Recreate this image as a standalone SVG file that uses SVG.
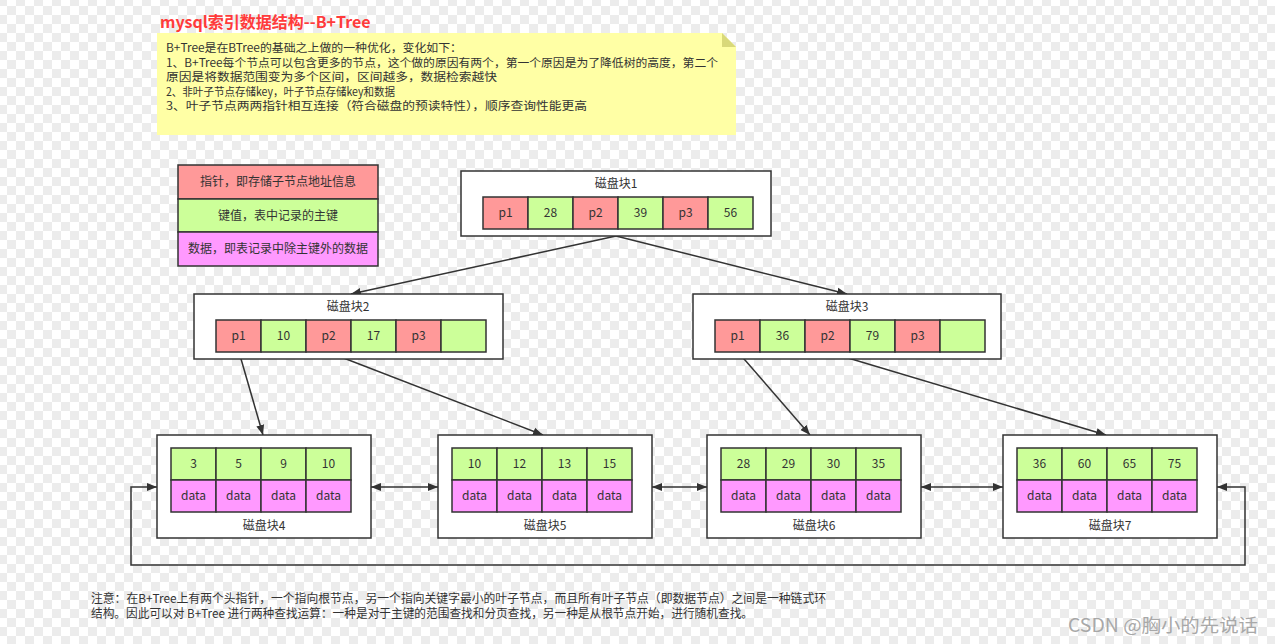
<svg xmlns="http://www.w3.org/2000/svg" width="1275" height="644" viewBox="0 0 1275 644">
<defs>
<pattern id="chk" x="7" y="6" width="18" height="18" patternUnits="userSpaceOnUse">
<rect width="18" height="18" fill="#ffffff"/>
<rect width="9" height="9" fill="#ececec"/>
<rect x="9" y="9" width="9" height="9" fill="#ececec"/>
</pattern>
<marker id="ah" viewBox="0 0 10 10" refX="10" refY="5" markerWidth="10" markerHeight="10" markerUnits="userSpaceOnUse" orient="auto-start-reverse">
<path d="M0,1 L10,5 L0,9 z" fill="#333"/>
</marker>
<style>
text{font-family:"Noto Sans CJK SC","Noto Sans",sans-serif;font-size:12px;fill:#333}
.n{font-size:11.5px}
.c{text-anchor:middle}
.box{fill:#fff;stroke:#333;stroke-width:1.5}
.p{fill:#ff9999;stroke:#333;stroke-width:1.5}
.k{fill:#ccff99;stroke:#333;stroke-width:1.5}
.d{fill:#ff99ff;stroke:#333;stroke-width:1.5}
.e{fill:none;stroke:#333;stroke-width:1.5;marker-end:url(#ah)}
.b{fill:none;stroke:#333;stroke-width:1.5;marker-end:url(#ah);marker-start:url(#ah)}
</style>
</defs>
<rect width="1275" height="644" fill="url(#chk)"/>

<g id="title">
<text x="160" y="28" style="font-size:16px;font-weight:bold;fill:#ff3b3b">mysql索引数据结构--B+Tree</text>
</g>

<g id="note">
<polygon points="157,33 722,33 736,47 736,135 157,135" fill="#ffffa5"/>
<polygon points="722,33 736,47 722,47" fill="#d9d97a"/>
<text class="n" x="166" y="52" textLength="296" lengthAdjust="spacingAndGlyphs">B+Tree是在BTree的基础之上做的一种优化，变化如下：</text>
<text class="n" x="166" y="66.5" textLength="552" lengthAdjust="spacingAndGlyphs">1、B+Tree每个节点可以包含更多的节点，这个做的原因有两个，第一个原因是为了降低树的高度，第二个</text>
<text class="n" x="166" y="81" textLength="331" lengthAdjust="spacingAndGlyphs">原因是将数据范围变为多个区间，区间越多，数据检索越快</text>
<text class="n" x="166" y="95.5" textLength="229" lengthAdjust="spacingAndGlyphs">2、非叶子节点存储key，叶子节点存储key和数据</text>
<text class="n" x="166" y="110" textLength="421" lengthAdjust="spacingAndGlyphs">3、叶子节点两两指针相互连接（符合磁盘的预读特性），顺序查询性能更高</text>
</g>

<g id="legend">
<rect class="p" x="178" y="165" width="200" height="34"/>
<rect class="k" x="178" y="199" width="200" height="33"/>
<rect class="d" x="178" y="232" width="200" height="34"/>
<text class="c" x="278" y="186">指针，即存储子节点地址信息</text>
<text class="c" x="278" y="220">键值，表中记录的主键</text>
<text class="c" x="278" y="253">数据，即表记录中除主键外的数据</text>
</g>

<g id="connectors">
<line class="e" x1="616" y1="236" x2="351" y2="294"/>
<line class="e" x1="616" y1="236" x2="847" y2="294"/>
<line class="e" x1="239" y1="352" x2="263" y2="435"/>
<line class="e" x1="328" y1="352" x2="543" y2="435"/>
<line class="e" x1="738" y1="352" x2="810" y2="435"/>
<line class="e" x1="828" y1="352" x2="1106" y2="435"/>
<line class="b" x1="371" y1="487" x2="438" y2="487"/>
<line class="b" x1="652" y1="487" x2="707" y2="487"/>
<line class="b" x1="921" y1="487" x2="1003" y2="487"/>
<polyline class="b" points="157,487 131,487 131,565 1245,565 1245,487 1217,487"/>
</g>

<g id="node1">
<rect class="box" x="461" y="171" width="310" height="65"/>
<text class="c" x="616" y="188">磁盘块1</text>
<rect class="p" x="483" y="197" width="45" height="32"/>
<rect class="k" x="528" y="197" width="45" height="32"/>
<rect class="p" x="573" y="197" width="45" height="32"/>
<rect class="k" x="618" y="197" width="45" height="32"/>
<rect class="p" x="663" y="197" width="45" height="32"/>
<rect class="k" x="708" y="197" width="45" height="32"/>
<text class="c" x="505.5" y="217">p1</text>
<text class="c" x="550.5" y="217">28</text>
<text class="c" x="595.5" y="217">p2</text>
<text class="c" x="640.5" y="217">39</text>
<text class="c" x="685.5" y="217">p3</text>
<text class="c" x="730.5" y="217">56</text>
</g>

<g id="node2">
<rect class="box" x="194" y="294" width="309" height="65"/>
<text class="c" x="348" y="311">磁盘块2</text>
<rect class="p" x="216" y="320" width="45" height="32"/>
<rect class="k" x="261" y="320" width="45" height="32"/>
<rect class="p" x="306" y="320" width="45" height="32"/>
<rect class="k" x="351" y="320" width="45" height="32"/>
<rect class="p" x="396" y="320" width="45" height="32"/>
<rect class="k" x="441" y="320" width="45" height="32"/>
<text class="c" x="238.5" y="340">p1</text>
<text class="c" x="283.5" y="340">10</text>
<text class="c" x="328.5" y="340">p2</text>
<text class="c" x="373.5" y="340">17</text>
<text class="c" x="418.5" y="340">p3</text>
</g>

<g id="node3">
<rect class="box" x="693" y="294" width="308" height="65"/>
<text class="c" x="847" y="311">磁盘块3</text>
<rect class="p" x="715" y="320" width="45" height="32"/>
<rect class="k" x="760" y="320" width="45" height="32"/>
<rect class="p" x="805" y="320" width="45" height="32"/>
<rect class="k" x="850" y="320" width="45" height="32"/>
<rect class="p" x="895" y="320" width="45" height="32"/>
<rect class="k" x="940" y="320" width="45" height="32"/>
<text class="c" x="737.5" y="340">p1</text>
<text class="c" x="782.5" y="340">36</text>
<text class="c" x="827.5" y="340">p2</text>
<text class="c" x="872.5" y="340">79</text>
<text class="c" x="917.5" y="340">p3</text>
</g>

<g id="node4">
<rect class="box" x="157" y="435" width="214" height="103"/>
<rect class="k" x="171" y="448" width="45" height="32"/>
<rect class="k" x="216" y="448" width="45" height="32"/>
<rect class="k" x="261" y="448" width="45" height="32"/>
<rect class="k" x="306" y="448" width="45" height="32"/>
<rect class="d" x="171" y="480" width="45" height="32"/>
<rect class="d" x="216" y="480" width="45" height="32"/>
<rect class="d" x="261" y="480" width="45" height="32"/>
<rect class="d" x="306" y="480" width="45" height="32"/>
<text class="c" x="193.5" y="468">3</text>
<text class="c" x="238.5" y="468">5</text>
<text class="c" x="283.5" y="468">9</text>
<text class="c" x="328.5" y="468">10</text>
<text class="c" x="193.5" y="500">data</text>
<text class="c" x="238.5" y="500">data</text>
<text class="c" x="283.5" y="500">data</text>
<text class="c" x="328.5" y="500">data</text>
<text class="c" x="264" y="530">磁盘块4</text>
</g>

<g id="node5">
<rect class="box" x="438" y="435" width="214" height="103"/>
<rect class="k" x="452" y="448" width="45" height="32"/>
<rect class="k" x="497" y="448" width="45" height="32"/>
<rect class="k" x="542" y="448" width="45" height="32"/>
<rect class="k" x="587" y="448" width="45" height="32"/>
<rect class="d" x="452" y="480" width="45" height="32"/>
<rect class="d" x="497" y="480" width="45" height="32"/>
<rect class="d" x="542" y="480" width="45" height="32"/>
<rect class="d" x="587" y="480" width="45" height="32"/>
<text class="c" x="474.5" y="468">10</text>
<text class="c" x="519.5" y="468">12</text>
<text class="c" x="564.5" y="468">13</text>
<text class="c" x="609.5" y="468">15</text>
<text class="c" x="474.5" y="500">data</text>
<text class="c" x="519.5" y="500">data</text>
<text class="c" x="564.5" y="500">data</text>
<text class="c" x="609.5" y="500">data</text>
<text class="c" x="545" y="530">磁盘块5</text>
</g>

<g id="node6">
<rect class="box" x="707" y="435" width="214" height="103"/>
<rect class="k" x="721" y="448" width="45" height="32"/>
<rect class="k" x="766" y="448" width="45" height="32"/>
<rect class="k" x="811" y="448" width="45" height="32"/>
<rect class="k" x="856" y="448" width="45" height="32"/>
<rect class="d" x="721" y="480" width="45" height="32"/>
<rect class="d" x="766" y="480" width="45" height="32"/>
<rect class="d" x="811" y="480" width="45" height="32"/>
<rect class="d" x="856" y="480" width="45" height="32"/>
<text class="c" x="743.5" y="468">28</text>
<text class="c" x="788.5" y="468">29</text>
<text class="c" x="833.5" y="468">30</text>
<text class="c" x="878.5" y="468">35</text>
<text class="c" x="743.5" y="500">data</text>
<text class="c" x="788.5" y="500">data</text>
<text class="c" x="833.5" y="500">data</text>
<text class="c" x="878.5" y="500">data</text>
<text class="c" x="814" y="530">磁盘块6</text>
</g>

<g id="node7">
<rect class="box" x="1003" y="435" width="214" height="103"/>
<rect class="k" x="1017" y="448" width="45" height="32"/>
<rect class="k" x="1062" y="448" width="45" height="32"/>
<rect class="k" x="1107" y="448" width="45" height="32"/>
<rect class="k" x="1152" y="448" width="45" height="32"/>
<rect class="d" x="1017" y="480" width="45" height="32"/>
<rect class="d" x="1062" y="480" width="45" height="32"/>
<rect class="d" x="1107" y="480" width="45" height="32"/>
<rect class="d" x="1152" y="480" width="45" height="32"/>
<text class="c" x="1039.5" y="468">36</text>
<text class="c" x="1084.5" y="468">60</text>
<text class="c" x="1129.5" y="468">65</text>
<text class="c" x="1174.5" y="468">75</text>
<text class="c" x="1039.5" y="500">data</text>
<text class="c" x="1084.5" y="500">data</text>
<text class="c" x="1129.5" y="500">data</text>
<text class="c" x="1174.5" y="500">data</text>
<text class="c" x="1110" y="530">磁盘块7</text>
</g>

<g id="footer">
<text x="91" y="603" textLength="735" lengthAdjust="spacingAndGlyphs">注意：在B+Tree上有两个头指针，一个指向根节点，另一个指向关键字最小的叶子节点，而且所有叶子节点（即数据节点）之间是一种链式环</text>
<text x="91" y="618" textLength="662" lengthAdjust="spacingAndGlyphs">结构。因此可以对 B+Tree 进行两种查找运算：一种是对于主键的范围查找和分页查找，另一种是从根节点开始，进行随机查找。</text>
</g>

<g id="watermark">
<text x="1068" y="632" textLength="190" lengthAdjust="spacingAndGlyphs" style="font-size:18px;fill:#a8a8a8">CSDN @胸小的先说话</text>
</g>
</svg>
